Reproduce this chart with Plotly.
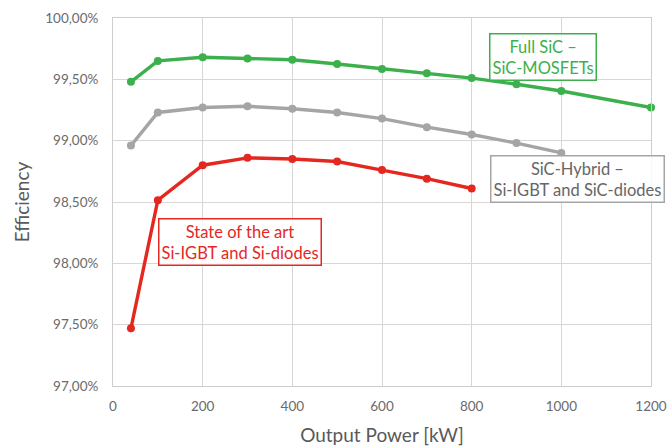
import plotly.graph_objects as go

power_kw = [40, 100, 200, 300, 400, 500, 600, 700, 800, 900, 1000, 1200]
full_sic = [99.48, 99.65, 99.68, 99.67, 99.66, 99.625, 99.585, 99.55, 99.51, 99.46, 99.405, 99.27]
power_hybrid = [40, 100, 200, 300, 400, 500, 600, 700, 800, 900, 1000]
sic_hybrid = [98.96, 99.23, 99.27, 99.28, 99.26, 99.23, 99.18, 99.11, 99.05, 98.98, 98.90]
power_si = [40, 100, 200, 300, 400, 500, 600, 700, 800]
state_art = [97.47, 98.515, 98.80, 98.86, 98.85, 98.83, 98.76, 98.69, 98.61]

y_tick_vals = [97.0, 97.5, 98.0, 98.5, 99.0, 99.5, 100.0]
y_tick_text = ["97,00%", "97,50%", "98,00%", "98,50%", "99,00%", "99,50%", "100,00%"]
x_tick_vals = [0, 200, 400, 600, 800, 1000, 1200]

GREEN = "#3cb04c"
GRAY = "#a5a5a5"
RED = "#e5281f"
FONT = "Lato"

fig = go.Figure()
for x, y, c in [(power_kw, full_sic, GREEN), (power_hybrid, sic_hybrid, GRAY), (power_si, state_art, RED)]:
    fig.add_trace(go.Scatter(x=x, y=y, mode="lines+markers",
                             line=dict(color=c, width=3.4),
                             marker=dict(color=c, size=8),
                             showlegend=False, hoverinfo="skip", cliponaxis=False))

ax_common = dict(showgrid=True, gridcolor="#d9d6d6", gridwidth=1, automargin=False,
                 showline=True, linecolor="#d0cccc", linewidth=1, mirror=True,
                 zeroline=False, ticks="", tickfont=dict(family=FONT, size=13.5, color="#6a6a6a"))

fig.update_xaxes(range=[0, 1200], tickvals=x_tick_vals, ticklabelstandoff=8,
                 title=dict(text="Output Power [kW]", font=dict(family=FONT, size=19, color="#595959"), standoff=15),
                 **ax_common)
fig.update_yaxes(range=[97.0, 100.0], tickvals=y_tick_vals, ticktext=y_tick_text, ticklabelstandoff=11,
                 title=dict(text="Efficiency", font=dict(family=FONT, size=19, color="#595959"), standoff=10),
                 **ax_common)

def box(x, y, text, col, txtcol):
    fig.add_annotation(x=x, y=y, xref="x", yref="y", text=text, showarrow=False,
                       font=dict(family=FONT, size=16.5, color=txtcol),
                       bordercolor=col, borderwidth=1.5, borderpad=2, bgcolor="rgba(255,255,255,0.85)",
                       align="center")

box(958, 99.68, "Full SiC –<br>SiC-MOSFETs", GREEN, GREEN)
box(1035, 98.69, "SiC-Hybrid –<br>Si-IGBT and SiC-diodes", GRAY, "#666666")
box(283, 98.17, "State of the art<br>Si-IGBT and Si-diodes", RED, RED)

fig.update_layout(width=670, height=448, margin=dict(l=113, r=19, t=18, b=62),
                  plot_bgcolor="white", paper_bgcolor="white",
                  font=dict(family=FONT))

fig.write_html("out.html", config={"displayModeBar": False},
               post_script="document.body.style.margin='0px';")
